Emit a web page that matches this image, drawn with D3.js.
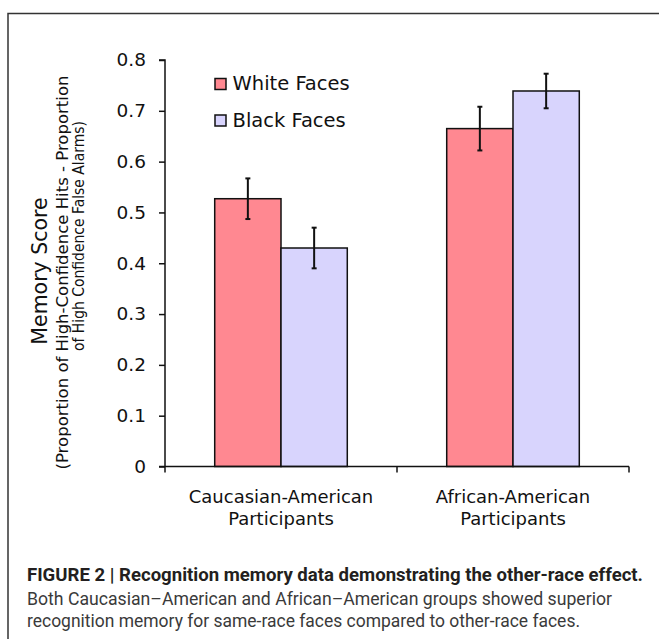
<!DOCTYPE html>
<html>
<head>
<meta charset="utf-8">
<script src="https://cdn.jsdelivr.net/npm/d3@7"></script>
<style>
  html, body { margin: 0; padding: 0; background: #fff; }
  svg { display: block; }
</style>
</head>
<body>
<svg id="chart" width="659" height="639"></svg>
<script>
// Participant groups (two-line labels) and face-race series
const categories = ["Caucasian-American", "African-American"];
const categoryLines = [["Caucasian-American", "Participants"], ["African-American", "Participants"]];
const series = ["White Faces", "Black Faces"];
const seriesColors = ["#ff8891", "#d8d4fd"];

// Memory scores per group: [White Faces, Black Faces]
const whiteFaces = [0.527, 0.665];
const blackFaces = [0.430, 0.739];
// Error bar half-widths
const whiteErr = [0.040, 0.043];
const blackErr = [0.040, 0.034];

const yTicks = [0, 0.1, 0.2, 0.3, 0.4, 0.5, 0.6, 0.7, 0.8];

const captionLines = [
  "FIGURE 2 | Recognition memory data demonstrating the other-race effect.",
  "Both Caucasian–American and African–American groups showed superior",
  "recognition memory for same-race faces compared to other-race faces."
];

const svg = d3.select("#chart");
const font = "'DejaVu Sans', Verdana, sans-serif";

// Outer frame (top and left rules)
svg.append("path")
  .attr("d", "M8,639 V13.5 H659")
  .attr("fill", "none").attr("stroke", "#333").attr("stroke-width", 1.5);

const plotLeft = 165, plotRight = 629, plotTop = 60, plotBottom = 466.5;

const y = d3.scaleLinear().domain([0, 0.8]).range([plotBottom, plotTop]);
const x0 = d3.scaleBand().domain(categories).range([plotLeft, plotRight]).padding(0);
const x1 = d3.scaleBand().domain(series).range([0, x0.bandwidth()]).paddingInner(0).paddingOuter(0.75);

const rows = categories.map((c, i) => ({
  cat: c,
  vals: [
    { s: series[0], v: whiteFaces[i], e: whiteErr[i], color: seriesColors[0] },
    { s: series[1], v: blackFaces[i], e: blackErr[i], color: seriesColors[1] }
  ]
}));

// Bars
const groups = svg.append("g").selectAll("g").data(rows).join("g")
  .attr("transform", d => `translate(${x0(d.cat)},0)`);

groups.selectAll("rect").data(d => d.vals).join("rect")
  .attr("x", d => x1(d.s))
  .attr("y", d => y(d.v))
  .attr("width", x1.bandwidth())
  .attr("height", d => y(0) - y(d.v))
  .attr("fill", d => d.color)
  .attr("stroke", "#111")
  .attr("stroke-width", 1.5);

// Error bars
const eb = groups.selectAll("g.err").data(d => d.vals).join("g").attr("class", "err")
  .attr("stroke", "#111").attr("stroke-width", 2);
eb.append("line")
  .attr("x1", d => x1(d.s) + x1.bandwidth() / 2)
  .attr("x2", d => x1(d.s) + x1.bandwidth() / 2)
  .attr("y1", d => y(d.v + d.e))
  .attr("y2", d => y(d.v - d.e));
[1, -1].forEach(sgn => {
  eb.append("line")
    .attr("x1", d => x1(d.s) + x1.bandwidth() / 2 - 2.5)
    .attr("x2", d => x1(d.s) + x1.bandwidth() / 2 + 2.5)
    .attr("y1", d => y(d.v + sgn * d.e))
    .attr("y2", d => y(d.v + sgn * d.e));
});

// Y axis
const yAxis = svg.append("g")
  .attr("transform", `translate(${plotLeft},0)`)
  .call(d3.axisLeft(y).tickValues(yTicks).tickSize(6).tickPadding(13)
    .tickFormat(d => d === 0 ? "0" : d3.format(".1f")(d)));
yAxis.select(".domain").attr("d", `M-6,${plotTop}H0V${plotBottom}`).attr("stroke", "#111").attr("stroke-width", 1.5);
yAxis.selectAll(".tick line").attr("stroke", "#111").attr("stroke-width", 1.5);
yAxis.selectAll(".tick text").attr("font-family", font).attr("font-size", 18.5).attr("fill", "#111");

// X axis: baseline with ticks at group boundaries
const xAxis = svg.append("g").attr("stroke", "#111").attr("stroke-width", 1.5);
xAxis.append("line").attr("x1", plotLeft - 6).attr("x2", plotRight).attr("y1", plotBottom).attr("y2", plotBottom);
const bounds = categories.map(c => x0(c)).concat([x0(categories[categories.length - 1]) + x0.bandwidth()]);
xAxis.selectAll("line.t").data(bounds).join("line").attr("class", "t")
  .attr("x1", d => d).attr("x2", d => d)
  .attr("y1", plotBottom).attr("y2", plotBottom + 6);

// Category labels
const catLabels = svg.append("g").selectAll("text").data(categories).join("text")
  .attr("text-anchor", "middle")
  .attr("font-family", font).attr("font-size", 18).attr("fill", "#111")
  .attr("transform", d => `translate(${x0(d) + x0.bandwidth() / 2},0)`);
catLabels.selectAll("tspan").data((d, i) => categoryLines[i]).join("tspan")
  .attr("x", 0)
  .attr("y", (d, i) => 503 + i * 22)
  .text(d => d);

// Y axis titles
svg.append("text")
  .attr("transform", "translate(46.5,271) rotate(-90)")
  .attr("text-anchor", "middle")
  .attr("font-family", font).attr("font-size", 20.5).attr("fill", "#111")
  .text("Memory Score");
svg.append("text")
  .attr("transform", "translate(68,272.5) rotate(-90)")
  .attr("text-anchor", "middle")
  .attr("font-family", font).attr("font-size", 15.5).attr("fill", "#111")
  .attr("textLength", 394).attr("lengthAdjust", "spacingAndGlyphs")
  .text("(Proportion of High-Confidence Hits - Proportion");
svg.append("text")
  .attr("transform", "translate(83.5,236) rotate(-90)")
  .attr("text-anchor", "middle")
  .attr("font-family", font).attr("font-size", 15.2).attr("fill", "#111")
  .attr("textLength", 230).attr("lengthAdjust", "spacingAndGlyphs")
  .text("of High Confidence False Alarms)");

// Legend
const legend = svg.append("g").selectAll("g").data(series).join("g")
  .attr("transform", (d, i) => `translate(215,${78.5 + i * 36.5})`);
legend.append("rect")
  .attr("width", 11).attr("height", 11)
  .attr("fill", (d, i) => seriesColors[i])
  .attr("stroke", "#111").attr("stroke-width", 1.5);
legend.append("text")
  .attr("x", 17.5).attr("y", 11.5)
  .attr("font-family", font).attr("font-size", 19.5).attr("fill", "#111")
  .text(d => d);

// Caption
const capFont = "'Liberation Sans Narrow', 'Roboto', 'Liberation Sans', sans-serif";
const capSpec = [
  { y: 581, w: 616, weight: "bold", fill: "#231f20" },
  { y: 605, w: 585, weight: "normal", fill: "#3a3a3a" },
  { y: 627, w: 553, weight: "normal", fill: "#3a3a3a" }
];
svg.append("g").selectAll("text").data(captionLines).join("text")
  .attr("x", 27)
  .attr("y", (d, i) => capSpec[i].y)
  .attr("font-family", capFont).attr("font-size", 18.5)
  .attr("font-weight", (d, i) => capSpec[i].weight)
  .attr("fill", (d, i) => capSpec[i].fill)
  .attr("textLength", (d, i) => capSpec[i].w)
  .attr("lengthAdjust", "spacingAndGlyphs")
  .text(d => d);
</script>
</body>
</html>
